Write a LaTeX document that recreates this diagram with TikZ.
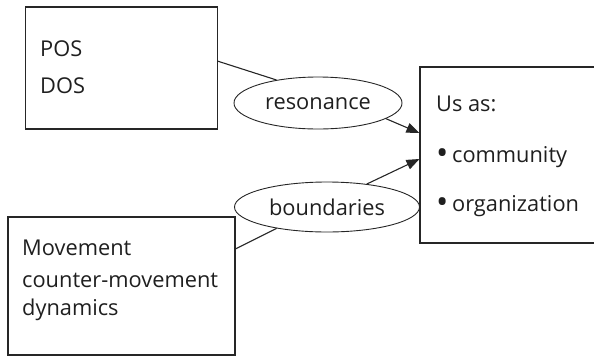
\documentclass[tikz,border=0pt]{standalone}
\usepackage{fontspec}
\setmainfont{Open Sans}
\usetikzlibrary{shapes.geometric,arrows.meta}
\newcommand{\bigbul}{\raisebox{-0.11em}{\scalebox{1.5}{\textbullet}}}
\begin{document}
\begin{tikzpicture}[x=1pt,y=-1pt,
  box/.style={draw=black!85,line width=1.1pt,rectangle,inner sep=0pt},
  oval/.style={draw=black!85,line width=0.9pt,ellipse,inner sep=0pt},
  txt/.style={anchor=base west,inner sep=0pt,font=\fontsize{21.8}{25}\selectfont,text=black!88},
  ctxt/.style={anchor=base,inner sep=0pt,font=\fontsize{21.8}{25}\selectfont,text=black!88},
  link/.style={draw=black!85,line width=1.1pt},
  arr/.style={link,-{Triangle[length=13pt,width=10pt]}}
]
\useasboundingbox (0,0) rectangle (594,357);
\clip (0,0) rectangle (594,357);
% boxes
\node[box,minimum width=192pt,minimum height=122pt] (pos) at (121.5,68) {};
\node[box,minimum width=227pt,minimum height=138pt] (mov) at (121.5,286) {};
\node[box,minimum width=180pt,minimum height=176pt] (us) at (510,155) {};
% ellipses
\node[oval,minimum width=168pt,minimum height=52pt] (res) at (318,103) {};
\node[oval,minimum width=185pt,minimum height=50pt] (bnd) at (327,207) {};
% texts
\node[txt] (t1) at (40,56) {POS};
\node[txt] (t2) at (40,93) {DOS};
\node[txt] (t3) at (22,255) {Movement};
\node[txt] (t4) at (22,287) {counter-movement};
\node[txt] (t5) at (22,315) {dynamics};
\node[txt] (t6) at (436,111) {Us as:};
\node[txt] (t7) at (436,162) {\bigbul\,community};
\node[txt] (t8) at (436,211) {\bigbul\,organization};
\node[ctxt] (t9) at (318,109) {resonance};
\node[ctxt] (t10) at (327,215) {boundaries};
% connectors
\draw[link] (pos.4.7) -- (res.151.9);
\draw[link] (mov.18.06) -- (bnd.203.9);
\draw[arr] (res.-13.8) -- ([yshift=22pt]us.west);
\draw[arr] (bnd.30.3) -- ([yshift=-4pt]us.west);
\end{tikzpicture}
\end{document}
